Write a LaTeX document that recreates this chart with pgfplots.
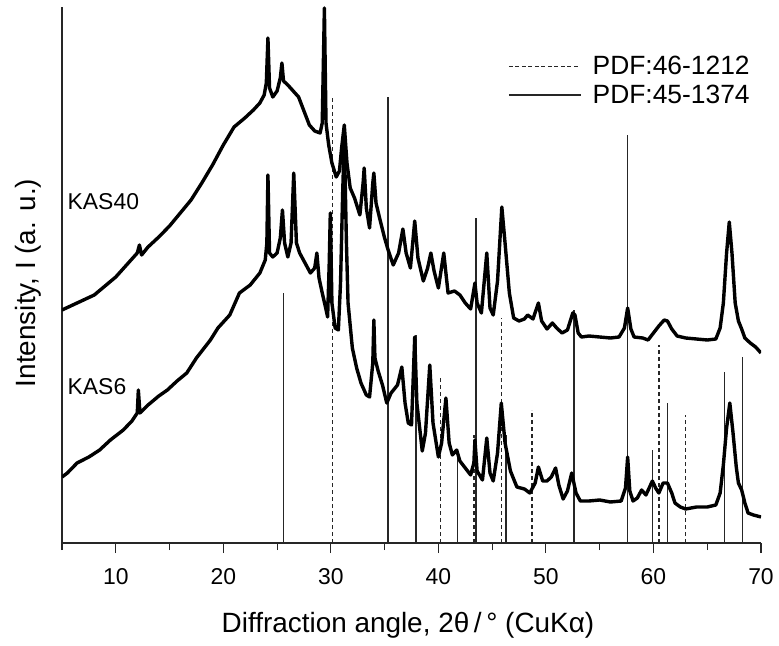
\documentclass[border=0pt]{standalone}
\usepackage{fontspec}
\setmainfont{Liberation Sans}
\usepackage{pgfplots}
\pgfplotsset{compat=1.18}
\begin{document}
\begin{tikzpicture}
\begin{axis}[
  at={(0,0)}, anchor=south west,
  scale only axis, width=699bp, height=536bp,
  xmin=5, xmax=70, ymin=0, ymax=536,
  axis x line*=bottom, axis y line*=left,
  axis line style={line width=1.1bp, black!85, -},
  xtick={10,20,...,70}, minor xtick={5,15,...,65},
  ytick=\empty,
  tick align=outside, major tick length=10bp, minor tick length=7bp,
  every tick/.style={line width=1.1bp, black!85},
  /pgf/number format/assume math mode=true,
  xticklabel style={font=\fontsize{23}{27}\selectfont, yshift=-12bp},
  xlabel={Diffraction angle, 2θ\,/\,° (CuKα)},
  xlabel style={font=\fontsize{28}{32}\selectfont, at={(axis description cs:0.495,0)}, anchor=base, yshift=-89bp},
  ylabel={Intensity, I (a. u.)},
  ylabel style={font=\fontsize{28}{32}\selectfont, at={(axis description cs:-0.0386,0.485)}, anchor=base, rotate=0},
  legend style={draw=none, fill=none, at={(axis description cs:0.638,0.912)}, anchor=north west, inner sep=0pt, font=\fontsize{26.5}{30}\selectfont, row sep=5bp, /tikz/every odd column/.append style={column sep=9bp}},
  legend cell align=left,
]
% PDF:46-1212 (dashed)
\addplot[ycomb, black!85, line width=1.4bp, dash pattern=on 4bp off 3bp,
  legend image code/.code={\draw[black!85, line width=1.5bp, dash pattern=on 4bp off 2.5bp] (0bp,0bp) -- (70bp,0bp);}]
coordinates {(30.15,446) (40.2,166) (43.3,108) (45.85,225) (48.7,133) (60.5,198) (63.0,128)};
\addlegendentry{PDF:46-1212}
% PDF:45-1374 (solid)
\addplot[ycomb, black!85, line width=1.4bp,
  legend image code/.code={\draw[black!85, line width=1.5bp] (0bp,0bp) -- (72bp,0bp);}]
coordinates {(25.6,250) (35.3,446) (37.9,208) (41.8,93) (43.5,325) (46.3,108) (52.6,233) (57.6,408) (59.9,93) (61.3,140) (66.6,171) (68.3,186)};
\addlegendentry{PDF:45-1374}
% KAS40
\addplot[black, line width=3.4bp, line join=round, forget plot] coordinates {
(5.0,233) (6.0,238) (7.0,243) (8.0,248) (9.0,257) (10.0,266) (11.0,278) (12.0,290)
(12.2,298) (12.4,288) (13.0,296) (14.0,306) (15.0,317) (16.0,330) (17.0,343) (18.0,360)
(19.0,378) (20.0,398) (21.0,416) (22.0,425) (22.8,433) (23.4,440) (23.8,448) (24.0,460)
(24.15,505) (24.3,455) (24.6,446) (25.0,452) (25.3,465) (25.45,480) (25.6,462) (26.0,458)
(26.5,452) (27.0,446) (27.5,432) (28.0,418) (28.5,412) (29.0,410) (29.2,420) (29.4,535)
(29.55,420) (29.8,398) (30.1,380) (30.5,366) (30.8,372) (31.0,395) (31.25,418) (31.5,380)
(31.8,355) (32.2,345) (32.7,328) (33.0,360) (33.1,375) (33.3,335) (33.6,315) (33.9,360)
(34.0,370) (34.2,340) (34.6,322) (35.0,305) (35.3,294) (35.8,278) (36.3,290) (36.7,314)
(37.0,290) (37.4,275) (37.8,322) (38.1,285) (38.6,262) (39.0,275) (39.3,290) (39.6,272)
(40.0,255) (40.5,290) (40.9,250) (41.5,252) (42.0,248) (42.5,240) (43.0,234) (43.4,260)
(43.6,240) (44.0,230) (44.5,290) (44.8,235) (45.1,228) (45.5,262) (45.9,336) (46.2,300)
(46.6,250) (47.0,225) (47.5,222) (48.0,224) (48.3,228) (48.8,224) (49.3,240) (49.6,222)
(50.1,214) (50.6,220) (51.0,215) (51.5,210) (52.0,213) (52.5,230) (52.7,228) (53.0,210)
(53.3,206) (54.0,207) (55.0,206) (56.0,205) (56.8,206) (57.3,215) (57.6,235) (57.9,214)
(58.2,206) (59.0,205) (59.5,203) (60.0,210) (60.5,217) (61.0,223) (61.3,222) (61.7,214)
(62.2,207) (63.0,205) (64.0,204) (65.0,203) (65.8,204) (66.2,215) (66.5,240) (66.8,290)
(67.05,321) (67.3,290) (67.6,240) (67.9,222) (68.2,214) (68.5,205) (69.0,200) (69.5,196)
(70.0,190)
};
% KAS6
\addplot[black, line width=3.4bp, line join=round, forget plot] coordinates {
(5.0,66) (5.5,70) (6.4,80) (7.5,86) (8.5,93) (9.5,103) (10.7,113) (11.5,122) (12.0,130)
(12.1,153) (12.25,130) (13.0,138) (14.0,147) (14.8,153) (15.7,162) (16.6,170) (17.5,185)
(18.8,203) (19.5,215) (20.6,228) (21.5,250) (22.5,258) (23.4,270) (23.9,283) (24.05,300)
(24.15,368) (24.3,290) (24.6,286) (25.0,290) (25.3,305) (25.5,333) (25.7,300) (26.0,286)
(26.3,300) (26.55,370) (26.8,300) (27.1,290) (27.6,280) (28.1,270) (28.5,275) (28.7,290)
(28.9,265) (29.2,250) (29.5,236) (29.7,226) (29.85,280) (29.95,330) (30.1,240) (30.4,215)
(30.7,213) (30.9,260) (31.1,350) (31.25,405) (31.45,300) (31.6,240) (32.0,195) (32.4,175)
(32.8,160) (33.3,148) (33.6,146) (33.9,180) (34.0,223) (34.1,185) (34.4,172) (34.8,158)
(35.2,140) (35.6,150) (36.2,158) (36.6,176) (36.9,140) (37.2,120) (37.5,118) (37.8,206)
(38.0,140) (38.5,92) (38.8,110) (39.2,178) (39.5,120) (40.0,86) (40.3,100) (40.7,145)
(41.0,100) (41.3,88) (41.7,93) (42.0,82) (42.5,75) (43.0,68) (43.3,80) (43.4,103)
(43.6,72) (44.1,63) (44.5,105) (44.8,70) (45.1,62) (45.5,90) (45.85,140) (46.2,100)
(46.7,72) (47.3,56) (48.0,54) (48.5,50) (49.0,60) (49.3,76) (49.7,62) (50.1,62)
(50.5,66) (50.9,75) (51.2,58) (51.6,44) (52.0,52) (52.4,70) (52.8,50) (53.2,42)
(54.0,42) (55.0,43) (56.0,41) (57.0,42) (57.4,55) (57.6,86) (57.8,52) (58.1,42)
(58.5,45) (58.9,53) (59.3,48) (59.9,62) (60.2,55) (60.5,50) (60.9,60) (61.3,60)
(61.7,50) (62.0,40) (62.5,36) (63.0,34) (64.0,36) (65.0,36) (65.8,38) (66.2,50)
(66.5,78) (66.8,115) (67.1,140) (67.4,110) (67.7,76) (67.9,60) (68.2,53) (68.5,40)
(68.8,30) (69.3,28) (70.0,26)
};
\node[anchor=west, font=\fontsize{23}{27}\selectfont] at (axis cs:5.2,341) {KAS40};
\node[anchor=west, font=\fontsize{23}{27}\selectfont] at (axis cs:5.2,156) {KAS6};
\end{axis}
\path (-62bp,-103bp) rectangle (717bp,543bp);
\end{tikzpicture}
\end{document}
